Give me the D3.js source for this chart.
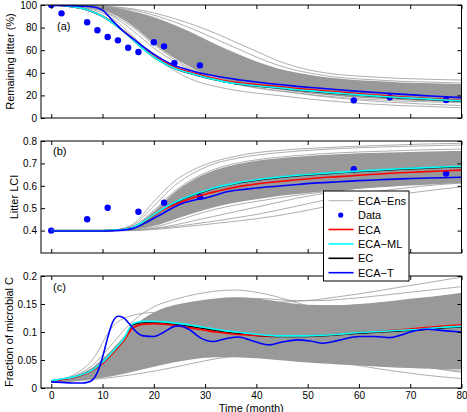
<!DOCTYPE html>
<html lang="en">
<head>
<meta charset="utf-8">
<title>Litter decomposition: ECA ensemble</title>
<style>
  body { margin: 0; background: #fff; }
  svg { display: block; font-family: "Liberation Sans", Arial, Helvetica, sans-serif; }
  .tick text { font-size: 10px; fill: #000; }
  .tick line { stroke: #000; stroke-width: 1; }
  .ylab, .plab, .xlab, .leg text { font-size: 11px; fill: #000; }
</style>
</head>
<body>
<svg id="chart" width="467" height="412"></svg>
<script src="https://d3js.org/d3.v7.min.js"></script>
<script>
// ---- data ----
// time grids (month)
var tFine = [0,2,4,6,8,10,12,14,16,18,20,22,24,26,28,30,32,34,36,38,40,44,48,52,56,60,64,68,72,76,80];
var tEns = [0,4,8,12,16,20,24,28,32,36,40,44,48,52,56,60,64,68,72,76,80];

// (a) remaining litter (%)
var dataTA = [0,2,7,9,11,13,15,17,20,22,24,29,59,66,77];
var dataA = [100,92.6,84.7,77.6,71.7,68.7,62.2,58.4,67,63.4,48.4,46.6,15.6,18.3,15.9];
var ecaA = [100,99.5,98.5,97,94,90,84.5,77.5,70,62,55,49.5,45,42,39.5,37,35,33,31.5,30.5,29.5,28,26,24.5,23,21.5,20,18.8,17.7,16.6,15.7];
var mlA = [100,99.5,98.5,97,94,90,84,77,69,61,54,48.5,44,41,38.5,36,34,32,30.5,29.5,28.5,27,25,23.5,22,20.5,19.3,18.2,17.2,16.2,15.3];
var ecA = [100,99.5,98.5,97,94,90,84,77,69,61,54,48.5,44,40.8,38.3,35.8,33.8,31.8,30.3,29.3,28.3,26.8,24.8,23.3,21.8,20.3,19.1,18,17,16,15.1];
var ecaTA = [99.5,99.5,99.3,99,98.5,95.5,86,77,70,63,56.5,51,46.5,43.5,41,39,37.2,35.6,34.2,33,31.8,29.8,28,26.5,25,23.6,22.3,21.1,20,19,18];
var ensFillHiA = [100,100,99.5,98,94,89,82,74,65,57,50,44,40,37,35,33.5,32.5,31.5,31,30.5,30];
var ensFillLoA = [100,99.5,97.5,92,81,66,53,43,36,31,28,25.5,23,21,19.5,18,17,16,15,14.5,14];
var ensA = [
  [100,100,99.5,98.5,96.5,93,88,82,75,67,59,51,45,41,38.5,37,36,35,34.5,34,33.6],
  [100,100,99.5,98,95.5,91,85,78,70,62,54,47,42,38.5,36,34.5,33.5,32.5,32,31.5,31],
  [100,100,99,97.5,94,89,82,74,65,57,49,43,39,36,34,32.5,31.5,30.5,30,29.5,29],
  [100,100,99,97,93,86,77,68,59,51,44,39,35.5,33,31,29.5,28.5,27.5,27,26.5,26],
  [100,100,99,96,90,82,72,62,53,45,39,35,32,29.5,27.5,26,25,24,23.5,23,22.5],
  [100,100,98.5,95,87,77,66,56,47,40,35,31,28,26,24.5,23,22,21,20.5,20,19.5],
  [100,99.5,98,93,83,70,58,48,40,34,30,27,24.5,22.5,21,19.5,18.5,17.5,17,16.5,16],
  [100,99.5,97,90,77,62,50,41,35,30,26.5,24,22,20,18.5,17,16,15,14.5,14,13.5],
  [100,99.5,97,91,80,65,52,42,35,30,27,24.5,22,19.5,17.5,16,14.5,13.5,12.5,11.8,11],
  [100,99,96,88,72,55,42,33,28,24.5,22,20,18,16,14.5,13,12,11,10.5,9.8,9]
];

// (b) litter LCI
var dataTB = [0,7,11,17,22,29,59,77];
var dataB = [0.4,0.451,0.502,0.484,0.524,0.551,0.674,0.655];
var ecaB = [.4,.4,.4,.4,.4,.4,.402,.406,.414,.438,.467,.495,.515,.533,.549,.562,.574,.585,.594,.602,.608,.618,.627,.635,.641,.647,.653,.658,.662,.666,.67];
var mlB = [.4,.4,.4,.4,.4,.4,.402,.406,.415,.44,.47,.5,.525,.545,.563,.578,.592,.603,.612,.62,.627,.638,.647,.654,.66,.666,.671,.676,.68,.684,.687];
var ecB = [.399,.399,.399,.399,.399,.399,.401,.405,.414,.438,.468,.498,.523,.543,.561,.576,.59,.601,.61,.618,.625,.636,.645,.652,.658,.664,.669,.674,.678,.682,.685];
var ecaTB = [.398,.398,.398,.398,.398,.398,.399,.402,.41,.43,.455,.48,.505,.525,.537,.545,.558,.572,.58,.585,.59,.598,.606,.613,.618,.623,.627,.631,.634,.636,.638];
var ensFillHiB = [.4,.4,.4,.402,.42,.485,.57,.63,.67,.695,.712,.722,.73,.736,.741,.745,.748,.75,.752,.754,.755];
var ensFillLoB = [.4,.4,.4,.4,.404,.42,.45,.48,.505,.525,.54,.553,.563,.572,.58,.587,.593,.599,.604,.608,.612];
var ensB = [
  [.4,.4,.4,.402,.43,.53,.62,.675,.71,.732,.748,.757,.764,.769,.773,.777,.78,.783,.786,.788,.79],
  [.4,.4,.4,.402,.425,.51,.6,.66,.7,.722,.737,.747,.755,.761,.766,.77,.773,.776,.778,.78,.782],
  [.4,.4,.4,.401,.42,.49,.575,.635,.675,.7,.716,.727,.735,.742,.747,.751,.754,.757,.76,.762,.764],
  [.4,.4,.4,.401,.415,.47,.545,.6,.64,.665,.683,.696,.706,.714,.72,.726,.731,.735,.738,.741,.744],
  [.4,.4,.4,.401,.41,.45,.51,.56,.6,.625,.645,.66,.672,.682,.69,.697,.703,.708,.712,.716,.72],
  [.4,.4,.4,.4,.405,.43,.47,.51,.545,.57,.59,.605,.618,.63,.64,.648,.656,.663,.67,.676,.682],
  [.4,.4,.4,.4,.403,.415,.44,.47,.495,.515,.53,.545,.558,.57,.58,.59,.598,.606,.613,.62,.627],
  [.4,.4,.4,.4,.402,.41,.425,.445,.465,.485,.505,.525,.545,.562,.577,.59,.6,.61,.618,.625,.632],
  [.4,.4,.4,.4,.402,.408,.418,.43,.443,.457,.472,.49,.51,.53,.548,.563,.576,.588,.598,.606,.612],
  [.398,.398,.398,.399,.4,.405,.413,.422,.432,.442,.453,.466,.482,.5,.518,.535,.55,.562,.574,.585,.595]
];

// (c) fraction of microbial C
var ecaC = [.012,.015,.018,.023,.031,.044,.062,.083,.108,.114,.115,.114,.112,.109,.106,.103,.1,.098,.096,.095,.094,.093,.093,.094,.096,.099,.101,.104,.107,.11,.113];
var mlC = [.013,.016,.019,.024,.032,.046,.065,.086,.115,.119,.119,.118,.116,.114,.111,.108,.105,.102,.1,.098,.096,.093,.093,.094,.096,.099,.101,.103,.105,.108,.11];
var ecC = [.0125,.0155,.0185,.0235,.0315,.045,.064,.085,.113,.117,.117,.116,.114,.112,.109,.106,.103,.1,.098,.096,.094,.092,.092,.093,.095,.098,.1,.102,.104,.107,.109];
var tEcaTC = [0,2,4,6,7,8,9,10,11,12,13,14,15,16,17,18,20,22,24,25,27,29,31.5,34,36.5,39,42.5,45,48,50.5,53,56,60,63,66,68,70,73,77,80];
var ecaTC = [.011,.01,.009,.009,.01,.014,.028,.055,.09,.118,.128,.126,.117,.106,.097,.093,.092,.1,.11,.111,.104,.09,.083,.088,.091,.085,.077,.082,.086,.084,.08,.085,.092,.092,.09,.094,.1,.105,.102,.1];
var ensFillHiC = [.012,.02,.036,.07,.11,.135,.148,.155,.16,.162,.16,.155,.15,.148,.148,.15,.153,.157,.161,.165,.17];
var ensFillLoC = [.01,.012,.016,.022,.03,.038,.046,.052,.055,.055,.053,.05,.047,.044,.042,.04,.038,.036,.035,.034,.033];
var ensC = [
  [.012,.02,.04,.08,.12,.145,.158,.167,.173,.175,.171,.163,.152,.142,.133,.125,.118,.112,.107,.103,.1],
  [.012,.018,.03,.055,.09,.115,.13,.14,.146,.15,.152,.153,.155,.158,.163,.168,.174,.18,.186,.192,.198],
  [.012,.019,.035,.068,.105,.13,.145,.153,.158,.16,.16,.158,.156,.156,.158,.161,.165,.169,.173,.177,.181],
  [.012,.017,.028,.05,.08,.105,.12,.13,.135,.137,.138,.138,.139,.141,.144,.147,.151,.155,.159,.163,.167],
  [.012,.022,.05,.11,.13,.135,.136,.134,.13,.125,.12,.115,.11,.106,.103,.1,.098,.096,.094,.093,.092],
  [.01,.014,.02,.03,.045,.06,.075,.087,.095,.098,.096,.09,.082,.074,.066,.058,.051,.045,.039,.034,.03],
  [.01,.013,.018,.025,.035,.048,.062,.075,.085,.09,.09,.086,.08,.073,.066,.059,.052,.045,.039,.033,.028],
  [.01,.012,.015,.019,.024,.03,.037,.045,.052,.057,.06,.06,.057,.052,.046,.04,.034,.029,.024,.02,.017],
  [.01,.013,.017,.022,.03,.04,.052,.065,.078,.09,.1,.108,.115,.121,.127,.133,.139,.145,.151,.157,.163],
  [.01,.014,.022,.035,.055,.08,.098,.108,.112,.113,.112,.11,.108,.106,.105,.105,.106,.108,.11,.112,.115],
  [.011,.016,.027,.045,.07,.09,.1,.102,.1,.095,.088,.08,.073,.067,.062,.058,.055,.052,.05,.048,.046]
];

var xTicks = [0,10,20,30,40,50,60,70,80];
var legendNames = ["ECA\u2212Ens", "Data", "ECA", "ECA\u2212ML", "EC", "ECA\u2212T"];

// ---- layout ----
var grey = "#999999";
var colors = { eca: "#ff0000", ml: "#00ffff", ec: "#000000", ecaT: "#0000ff", data: "#0000ff" };
var svg = d3.select("#chart");
var x = d3.scaleLinear().domain([-2, 80]).range([41, 461.5]);

var panels = [
  { id: "a", top: 5, bottom: 118, domain: [0, 100], yTicks: [0,20,40,60,80,100], fmt: d3.format("d"),
    label: "Remaining litter (%)", labX: 13.5, tag: "(a)", tagX: 57, tagY: 29.5,
    fillHi: ensFillHiA, fillLo: ensFillLoA, ens: ensA, dT: dataTA, d: dataA,
    lines: [[tFine, ecA, "ec"], [tFine, ecaA, "eca"], [tFine, mlA, "ml"], [tFine, ecaTA, "ecaT"]], xLabels: false },
  { id: "b", top: 141, bottom: 253, domain: [0.3, 0.8], yTicks: [0.4,0.5,0.6,0.7,0.8], fmt: d3.format(".1f"),
    label: "Litter LCI", labX: 17.5, tag: "(b)", tagX: 53, tagY: 155,
    fillHi: ensFillHiB, fillLo: ensFillLoB, ens: ensB, dT: dataTB, d: dataB,
    lines: [[tFine, ecB, "ec"], [tFine, ecaB, "eca"], [tFine, mlB, "ml"], [tFine, ecaTB, "ecaT"]], xLabels: false },
  { id: "c", top: 276, bottom: 388, domain: [0, 0.2], yTicks: [0,0.05,0.1,0.15,0.2], fmt: d => String(d),
    label: "Fraction of microbial C", labX: 12.5, tag: "(c)", tagX: 53, tagY: 291,
    fillHi: ensFillHiC, fillLo: ensFillLoC, ens: ensC, dT: [], d: [],
    lines: [[tFine, ecC, "ec"], [tFine, ecaC, "eca"], [tFine, mlC, "ml"], [tEcaTC, ecaTC, "ecaT"]], xLabels: true }
];

var defs = svg.append("defs");

panels.forEach(function(p) {
  var y = d3.scaleLinear().domain(p.domain).range([p.bottom, p.top]);
  var g = svg.append("g").attr("class", "panel-" + p.id);

  defs.append("clipPath").attr("id", "clip-" + p.id)
    .append("rect")
    .attr("x", x.range()[0]).attr("y", p.top)
    .attr("width", x.range()[1] - x.range()[0]).attr("height", p.bottom - p.top);

  var plot = g.append("g").attr("clip-path", "url(#clip-" + p.id + ")");

  // dense core of the ensemble
  var band = d3.area()
    .x((d, i) => x(tEns[i]))
    .y0((d, i) => y(p.fillLo[i]))
    .y1(d => y(d))
    .curve(d3.curveMonotoneX);
  plot.append("path").datum(p.fillHi).attr("d", band).attr("fill", grey);

  var ensLine = d3.line().x((d, i) => x(tEns[i])).y(d => y(d)).curve(d3.curveMonotoneX);
  plot.selectAll(".ens").data(p.ens).enter()
    .append("path").attr("class", "ens")
    .attr("d", ensLine)
    .attr("fill", "none").attr("stroke", grey).attr("stroke-width", 0.8);

  // observations
  plot.selectAll(".obs").data(p.d).enter()
    .append("circle").attr("class", "obs")
    .attr("cx", (d, i) => x(p.dT[i])).attr("cy", d => y(d)).attr("r", 3.2)
    .attr("fill", colors.data);

  p.lines.forEach(function(l) {
    var ts = l[0];
    var gen = d3.line().x((d, i) => x(ts[i])).y(d => y(d)).curve(d3.curveMonotoneX);
    plot.append("path").datum(l[1]).attr("d", gen)
      .attr("fill", "none").attr("stroke", colors[l[2]]).attr("stroke-width", 1.6);
  });

  // axes, ticks pointing inward
  var bottomAxis = d3.axisBottom(x).tickValues(xTicks).tickSize(-4).tickSizeOuter(0).tickPadding(4);
  if (!p.xLabels) bottomAxis.tickFormat("");
  g.append("g").attr("transform", "translate(0," + p.bottom + ")").call(bottomAxis);
  g.append("g").attr("transform", "translate(0," + p.top + ")")
    .call(d3.axisTop(x).tickValues(xTicks).tickSize(-4).tickSizeOuter(0).tickFormat(""));
  g.append("g").attr("transform", "translate(" + x.range()[0] + ",0)")
    .call(d3.axisLeft(y).tickValues(p.yTicks).tickSize(-4).tickSizeOuter(0).tickPadding(4).tickFormat(p.fmt));
  g.append("g").attr("transform", "translate(" + x.range()[1] + ",0)")
    .call(d3.axisRight(y).tickValues(p.yTicks).tickSize(-4).tickSizeOuter(0).tickFormat(""));
  g.selectAll(".domain").remove();
  g.selectAll(".tick text").attr("font-family", null).attr("font-size", null);

  g.append("rect")
    .attr("x", x.range()[0]).attr("y", p.top)
    .attr("width", x.range()[1] - x.range()[0]).attr("height", p.bottom - p.top)
    .attr("fill", "none").attr("stroke", "#000").attr("stroke-width", 1);

  g.append("text").attr("class", "ylab")
    .attr("transform", "translate(" + p.labX + "," + ((p.top + p.bottom) / 2) + ") rotate(-90)")
    .attr("text-anchor", "middle")
    .text(p.label);

  g.append("text").attr("class", "plab")
    .attr("x", p.tagX).attr("y", p.tagY)
    .text(p.tag);
});

svg.append("text").attr("class", "xlab")
  .attr("x", (x.range()[0] + x.range()[1]) / 2).attr("y", 411.5)
  .attr("text-anchor", "middle")
  .text("Time (month)");

// legend (sits over panels b and c)
var leg = svg.append("g").attr("class", "leg").attr("transform", "translate(323.5,191)");
leg.append("rect").attr("width", 85.5).attr("height", 90)
  .attr("fill", "#fff").attr("stroke", "#000").attr("stroke-width", 1);
var legStyle = [
  { stroke: grey, w: 0.8 }, { dot: true }, { stroke: colors.eca, w: 1.6 },
  { stroke: colors.ml, w: 1.6 }, { stroke: colors.ec, w: 1.6 }, { stroke: colors.ecaT, w: 1.6 }
];
legendNames.forEach(function(name, i) {
  var yy = 9.7 + i * 14.4;
  var s = legStyle[i];
  if (s.dot) {
    leg.append("circle").attr("cx", 17.2).attr("cy", yy).attr("r", 2.6).attr("fill", colors.data);
  } else {
    leg.append("line").attr("x1", 5).attr("x2", 30).attr("y1", yy).attr("y2", yy)
      .attr("stroke", s.stroke).attr("stroke-width", s.w);
  }
  leg.append("text").attr("x", 34.5).attr("y", yy + 4).text(name);
});
</script>
</body>
</html>
